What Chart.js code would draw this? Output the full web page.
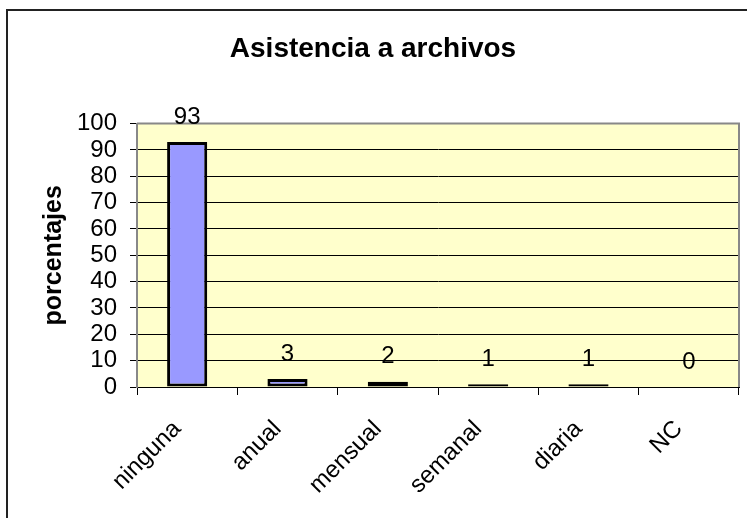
<!DOCTYPE html>
<html>
<head>
<meta charset="utf-8">
<title>Asistencia a archivos</title>
<script src="https://cdn.jsdelivr.net/npm/chart.js@4"></script>
<style>
  html, body { margin: 0; padding: 0; background: #fff; }
  #wrap { width: 747px; height: 518px; }
</style>
</head>
<body>
<div id="wrap"><canvas id="asistenciaChart" width="747" height="518"></canvas></div>
<script>
// categorias y porcentajes
const categorias = ["ninguna", "anual", "mensual", "semanal", "diaria", "NC"];
const porcentajes = [93, 3, 2, 1, 1, 0];
const yTicks = [0, 10, 20, 30, 40, 50, 60, 70, 80, 90, 100];

const FONT = "'Liberation Sans', Arial, sans-serif";

// marco exterior + fondo amarillo del area de trazado + borde gris
const areaPlugin = {
    id: "areaPlugin",
    beforeDraw(chart) {
        const ctx = chart.ctx;
        const a = chart.chartArea;
        ctx.save();
        ctx.fillStyle = "#ffffff";
        ctx.fillRect(0, 0, chart.width, chart.height);
        ctx.strokeStyle = "#222222";
        ctx.lineWidth = 2;
        ctx.strokeRect(7, 10, chart.width + 20, chart.height + 20);
        ctx.fillStyle = "#ffffcc";
        ctx.fillRect(a.left, a.top, a.right - a.left, a.bottom - a.top);
        ctx.restore();
    },
    afterDatasetsDraw(chart) {
        const ctx = chart.ctx;
        const a = chart.chartArea;
        ctx.save();
        ctx.strokeStyle = "#888888";
        ctx.lineWidth = 2;
        ctx.beginPath();
        ctx.moveTo(a.left, a.top);
        ctx.lineTo(a.right, a.top);
        ctx.lineTo(a.right, a.bottom);
        ctx.stroke();
        ctx.restore();
    }
};

// valor encima de cada barra
const valorPlugin = {
    id: "valorPlugin",
    afterDatasetsDraw(chart) {
        const ctx = chart.ctx;
        const meta = chart.getDatasetMeta(0);
        ctx.save();
        ctx.font = "24px " + FONT;
        ctx.fillStyle = "#000";
        ctx.textAlign = "center";
        ctx.textBaseline = "middle";
        meta.data.forEach((bar, i) => {
            ctx.fillText(String(porcentajes[i]), bar.x, bar.y - 25);
        });
        ctx.restore();
    }
};

new Chart(document.getElementById("asistenciaChart"), {
    type: "bar",
    data: {
        labels: categorias,
        datasets: [{
            label: "porcentajes",
            data: porcentajes,
            backgroundColor: "#9999ff",
            borderColor: "#000000",
            borderWidth: 3,
            borderSkipped: false,
            categoryPercentage: 0.8,
            barPercentage: 0.5
        }]
    },
    options: {
        responsive: false,
        animation: false,
        layout: { padding: { left: 7, right: 8, top: 0, bottom: 0 } },
        plugins: {
            legend: { display: false },
            tooltip: { enabled: false },
            title: {
                display: true,
                text: "Asistencia a archivos",
                color: "#000",
                font: { family: FONT, size: 28, weight: "bold", lineHeight: 1.2 },
                padding: { top: 32, bottom: 58 }
            }
        },
        scales: {
            x: {
                grid: {
                    drawOnChartArea: false,
                    drawTicks: true,
                    tickLength: 8,
                    color: "#000",
                    offset: true
                },
                border: { color: "#000", width: 1 },
                ticks: {
                    color: "#000",
                    font: { family: FONT, size: 24 },
                    minRotation: 45,
                    maxRotation: 45,
                    padding: 20,
                    labelOffset: -10
                },
                afterFit(scale) { scale.height = 131; }
            },
            y: {
                min: 0,
                max: 100,
                afterBuildTicks(scale) { scale.ticks = yTicks.map(v => ({ value: v })); },
                grid: {
                    color: "#000",
                    lineWidth: 1,
                    drawTicks: true,
                    tickLength: 7
                },
                border: { color: "#888888", width: 2 },
                ticks: {
                    color: "#000",
                    font: { family: FONT, size: 24 },
                    padding: 13,
                    autoSkip: false
                },
                title: {
                    display: true,
                    text: "porcentajes",
                    color: "#000",
                    font: { family: FONT, size: 25, weight: "bold", lineHeight: 1.2 },
                    padding: { top: 32, bottom: 0 }
                },
                afterFit(scale) { scale.width = 130; }
            }
        }
    },
    plugins: [areaPlugin, valorPlugin]
});
</script>
</body>
</html>
